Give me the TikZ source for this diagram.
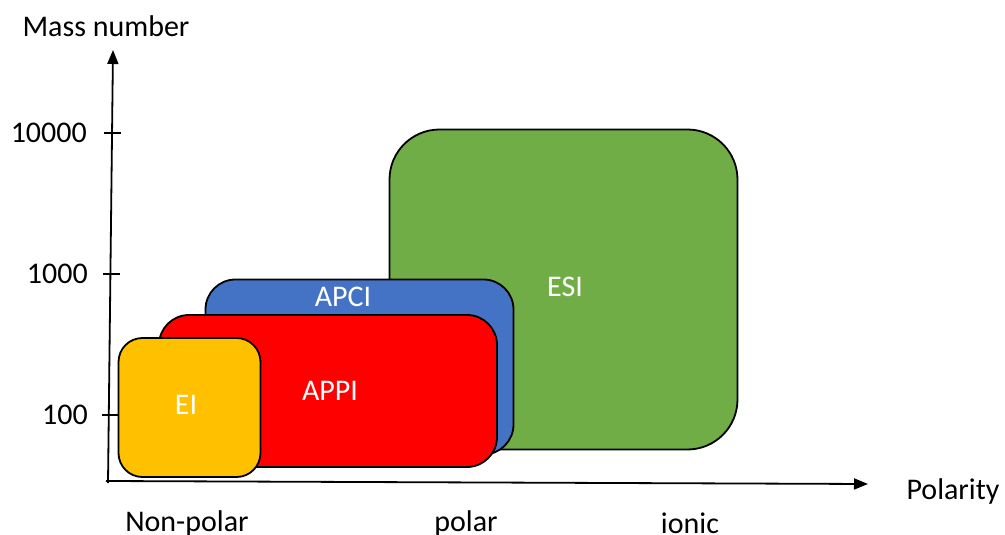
\documentclass[tikz,border=0pt]{standalone}
\usepackage{fontspec}
\setmainfont{Carlito}
\usetikzlibrary{arrows.meta}
\definecolor{esigreen}{HTML}{70AD47}
\definecolor{apciblue}{HTML}{4472C4}
\definecolor{appired}{HTML}{FF0000}
\definecolor{eiyellow}{HTML}{FFC000}
\tikzset{
  area/.style={draw=black, line width=1.8pt, inner sep=0pt, outer sep=0pt},
  lbl/.style={text=white, font=\fontsize{30}{35}\selectfont, inner sep=0pt},
  axlbl/.style={text=black, font=\fontsize{30}{35}\selectfont, inner sep=0pt},
  axis/.style={line width=1.8pt, -{Triangle[length=14pt,width=11pt]}},
  tick/.style={line width=1.5pt}
}
\begin{document}
\begin{tikzpicture}[x=1pt,y=-1pt]
\useasboundingbox (0,0) rectangle (1005,535);
% axes
\coordinate (ytop) at (113,50);
\coordinate (xend) at (868,484);
\coordinate (ybot) at (108,483);
\coordinate (xstart) at (106,481);
\draw[axis] (ybot) -- (ytop);
\draw[axis] (xstart) -- (xend);
% ticks
\coordinate (t1a) at (104,133); \coordinate (t1b) at (121,133);
\coordinate (t2a) at (103,274); \coordinate (t2b) at (120,274);
\coordinate (t3a) at (102,415); \coordinate (t3b) at (119,415);
\draw[tick] (t1a) -- (t1b);
\draw[tick] (t2a) -- (t2b);
\draw[tick] (t3a) -- (t3b);
\node[axlbl, anchor=east] (l10000) at (87,133) {10000};
\node[axlbl, anchor=east] (l1000) at (88,274) {1000};
\node[axlbl, anchor=east] (l100) at (88,415) {100};
\node[axlbl] (mass) at (106,26) {Mass number};
\node[axlbl] (pol) at (953,491) {Polarity};
\node[axlbl] (np) at (187,523) {Non-polar};
\node[axlbl] (polar) at (466,523) {polar};
\node[axlbl] (ionic) at (690,523) {ionic};
% areas
\node[area, fill=esigreen, rounded corners=50pt, minimum width=348pt, minimum height=320pt] (esi) at (563.5,289.5) {};
\node[area, fill=apciblue, rounded corners=30pt, minimum width=308pt, minimum height=175pt] (apci) at (359.5,367) {};
\node[area, fill=appired, rounded corners=30pt, minimum width=338pt, minimum height=152pt] (appi) at (328,391) {};
\node[area, fill=eiyellow, rounded corners=24pt, minimum width=142pt, minimum height=139pt] (ei) at (189.5,407.5) {};
\node[lbl] (esit) at (565,287) {ESI};
\node[lbl] (apcit) at (343,297) {APCI};
\node[lbl] (appit) at (330,391) {APPI};
\node[lbl] (eit) at (186,405) {EI};
\end{tikzpicture}
\end{document}
